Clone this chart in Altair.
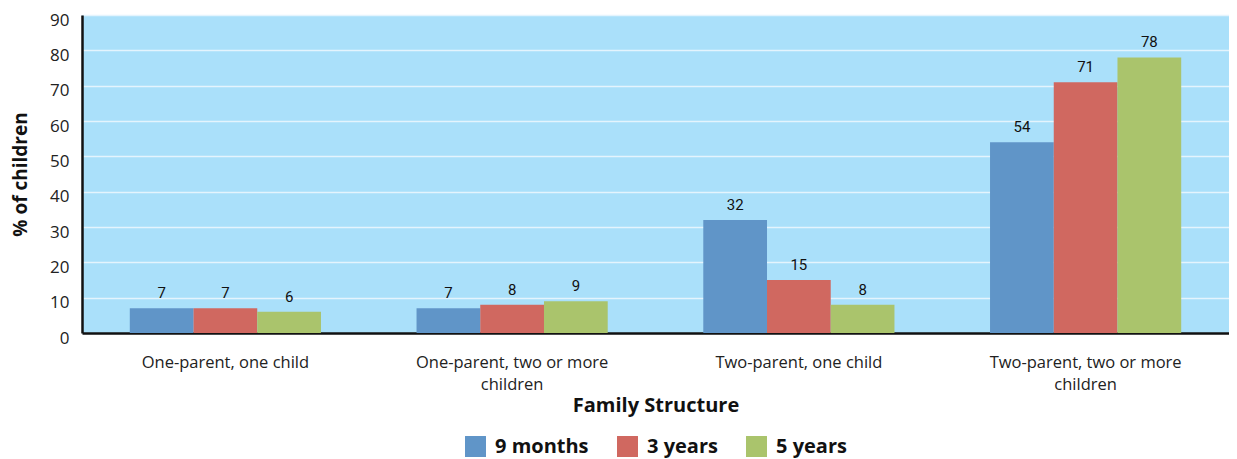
import altair as alt
import pandas as pd

categories = ["One-parent, one child", "One-parent, two or more children",
              "Two-parent, one child", "Two-parent, two or more children"]
series = ["9 months", "3 years", "5 years"]
v_9m = [7, 7, 32, 54]
v_3y = [7, 8, 15, 71]
v_5y = [6, 9, 8, 78]
colors = ["#6095c8", "#d06860", "#aac46c"]

rows = []
for s, vals in zip(series, [v_9m, v_3y, v_5y]):
    for c, v in zip(categories, vals):
        rows.append({"cat": c, "series": s, "value": v})
df = pd.DataFrame(rows)

label_expr = ("datum.value == 'One-parent, two or more children' ? ['One-parent, two or more', 'children'] : "
              "datum.value == 'Two-parent, two or more children' ? ['Two-parent, two or more', 'children'] : datum.label")

x = alt.X("cat:N", sort=categories, title="Family Structure",
          scale=alt.Scale(paddingInner=0.3333, paddingOuter=0.1667),
          axis=alt.Axis(labelAngle=0, labelExpr=label_expr, labelFontSize=16.5, labelColor="#222",
                        labelPadding=21, labelLineHeight=22, labelLimit=400, ticks=False,
                        domainColor="#111", domainWidth=2.5, titleFontSize=20, titleFontWeight="bold",
                        titleColor="#111", titlePadding=3, labelFont="Open Sans", titleFont="Open Sans"))
xo = alt.XOffset("series:N", sort=series, scale=alt.Scale(paddingInner=0, paddingOuter=0))
y = alt.Y("value:Q", title="% of children",
          scale=alt.Scale(domain=[0, 90], nice=False),
          axis=alt.Axis(values=list(range(0, 91, 10)), labelFontSize=17, labelColor="#222",
                        labelPadding=13, labelOffset=5, ticks=False, domainColor="#111", domainWidth=2.5,
                        labelOverlap=False, labelFlush=False,
                        gridColor="#e4f4fd", gridWidth=1.5, titleFontSize=19, titleFontWeight="bold",
                        titleColor="#111", titlePadding=19, labelFont="Open Sans", titleFont="Open Sans"))

bars = alt.Chart(df).mark_bar().encode(
    x=x, xOffset=xo, y=y,
    color=alt.Color("series:N", sort=series, scale=alt.Scale(domain=series, range=colors),
                    legend=alt.Legend(title=None, orient="none", legendX=383, legendY=421,
                                      direction="horizontal", symbolType="square", symbolSize=440,
                                      symbolStrokeWidth=0, labelFontSize=20, labelFontWeight="bold",
                                      labelColor="#111", labelFont="Open Sans", labelOffset=9,
                                      labelLimit=300, columnPadding=28))
)
text = alt.Chart(df).mark_text(baseline="bottom", dy=-7, fontSize=15, color="#111",
                               font="Roboto").encode(
    x=x, xOffset=xo, y=y,
    text="value:Q")

chart = alt.layer(bars, text).properties(
    width=1147, height=318,
    autosize=alt.AutoSizeParams(type="none"),
    padding={"left": 74, "top": 7, "right": 0, "bottom": 126},
).configure_view(fill="#aae0fa", stroke=None)

chart.save("out.html", embed_options={"renderer": "svg", "actions": False})
